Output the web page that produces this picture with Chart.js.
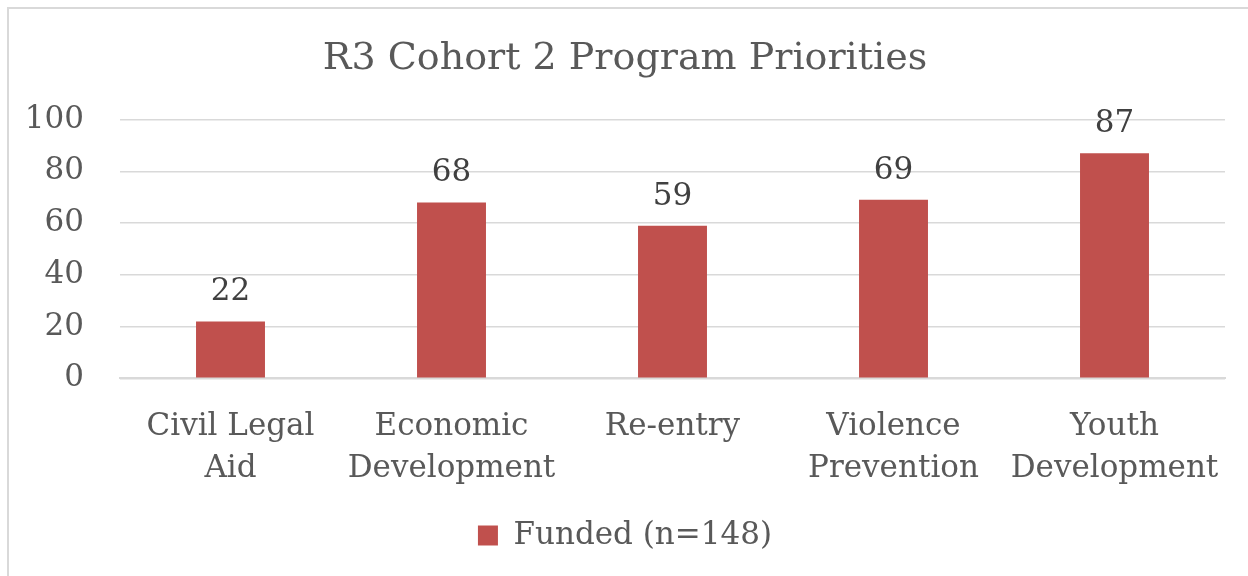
<!DOCTYPE html>
<html lang="en">
<head>
    <meta charset="UTF-8">
    <title>R3 Cohort 2 Program Priorities</title>
    <script src="https://cdn.jsdelivr.net/npm/chart.js"></script>
    <style>
        html, body { margin: 0; padding: 0; background: #fff; }
        .frame {
            position: absolute; left: 7px; top: 7px;
            width: 1241px; height: 569px;
            border-left: 2px solid #D9D9D9; border-top: 2px solid #D9D9D9;
            box-sizing: border-box;
        }
        .frame canvas { display: block; }
    </style>
</head>
<body>
    <div class="frame">
        <canvas id="chart"></canvas>
    </div>

    <script>
        const categories = [
            ['Civil Legal', 'Aid'],
            ['Economic', 'Development'],
            ['Re-entry'],
            ['Violence', 'Prevention'],
            ['Youth', 'Development']
        ];
        const funded = [22, 68, 59, 69, 87];
        const seriesLabel = 'Funded (n=148)';
        const chartTitle = 'R3 Cohort 2 Program Priorities';

        const textColor = '#595959';
        const fontFamily = '"DejaVu Serif", "Liberation Serif", serif';

        // values above the bars
        const barLabels = {
            id: 'barLabels',
            afterDatasetsDraw(chart) {
                const ctx = chart.ctx;
                const meta = chart.getDatasetMeta(0);
                ctx.save();
                ctx.font = '31px ' + fontFamily;
                ctx.fillStyle = '#404040';
                ctx.textAlign = 'center';
                ctx.textBaseline = 'alphabetic';
                meta.data.forEach((bar, i) => {
                    ctx.fillText(funded[i], bar.x, bar.y - 21);
                });
                ctx.restore();
            }
        };

        new Chart(document.getElementById('chart'), {
            type: 'bar',
            data: {
                labels: categories,
                datasets: [{
                    label: seriesLabel,
                    data: funded,
                    backgroundColor: '#C0504D',
                    categoryPercentage: 1,
                    barPercentage: 0.312
                }]
            },
            options: {
                responsive: true,
                maintainAspectRatio: false,
                animation: false,
                layout: { padding: { left: 16, right: 23, top: 0, bottom: 15 } },
                plugins: {
                    title: {
                        display: true,
                        text: chartTitle,
                        color: textColor,
                        font: { family: fontFamily, size: 38, weight: 'normal' },
                        padding: { top: 27, bottom: 38 }
                    },
                    legend: {
                        position: 'bottom',
                        labels: {
                            color: textColor,
                            font: { family: fontFamily, size: 31 },
                            boxWidth: 20,
                            boxHeight: 20,
                            padding: 10
                        }
                    },
                    tooltip: { enabled: false }
                },
                scales: {
                    x: {
                        grid: { display: false },
                        border: { color: '#D9D9D9', width: 2 },
                        ticks: {
                            color: textColor,
                            font: { family: fontFamily, size: 31, lineHeight: 1.35 },
                            maxRotation: 0,
                            padding: 20
                        }
                    },
                    y: {
                        min: 0,
                        max: 100,
                        afterFit(scale) { scale.width = 95; },
                        grid: { color: '#D9D9D9', lineWidth: 1.5, drawTicks: false },
                        border: { display: false },
                        ticks: {
                            stepSize: 20,
                            color: textColor,
                            font: { family: fontFamily, size: 31 },
                            padding: 36
                        }
                    }
                }
            },
            plugins: [barLabels]
        });
    </script>
</body>
</html>
